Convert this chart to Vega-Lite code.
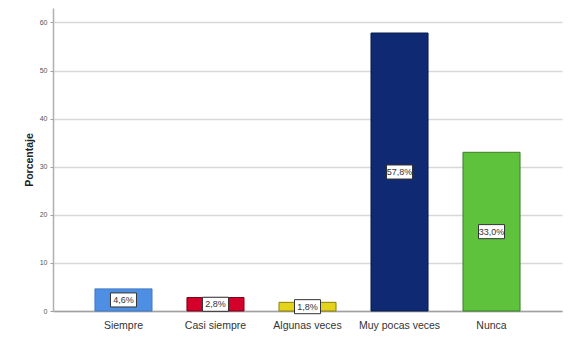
{
  "$schema": "https://vega.github.io/schema/vega-lite/v6.json",
  "width": 509,
  "height": 303,
  "autosize": {"type": "none"},
  "padding": {"left": 53, "top": 8, "right": 10, "bottom": 43},
  "background": "white",
  "data": {
    "values": [
      {"cat": "Siempre", "pct": 4.6, "label": "4,6%"},
      {"cat": "Casi siempre", "pct": 2.8, "label": "2,8%"},
      {"cat": "Algunas veces", "pct": 1.8, "label": "1,8%"},
      {"cat": "Muy pocas veces", "pct": 57.8, "label": "57,8%"},
      {"cat": "Nunca", "pct": 33.0, "label": "33,0%"}
    ]
  },
  "transform": [{"calculate": "datum.pct / 2", "as": "mid"}],
  "config": {
    "view": {"stroke": null},
    "font": "Liberation Sans"
  },
  "encoding": {
    "x": {
      "field": "cat",
      "type": "nominal",
      "sort": null,
      "scale": {"paddingInner": 0.38, "paddingOuter": 0.456},
      "axis": {
        "title": null,
        "labelAngle": 0,
        "labelFontSize": 10.5,
        "labelColor": "#333333",
        "labelPadding": 9,
        "ticks": false,
        "domainColor": "#a0a0a0",
        "domainWidth": 1.5
      }
    }
  },
  "layer": [
    {
      "mark": {"type": "bar", "strokeWidth": 1},
      "encoding": {
        "y": {
          "field": "pct",
          "type": "quantitative",
          "scale": {"domain": [0, 63], "nice": false},
          "axis": {
            "title": "Porcentaje",
            "titleFontSize": 10.5,
            "titleFontWeight": "bold",
            "titleColor": "#222222",
            "titlePadding": 5,
            "values": [0, 10, 20, 30, 40, 50, 60],
            "labelFontSize": 7,
            "labelColor": "#555555",
            "labelPadding": 3,
            "tickSize": 3,
            "tickColor": "#a0a0a0",
            "domainColor": "#b0b0b0",
            "domainWidth": 1.5,
            "gridColor": "#d8d8d8",
            "gridWidth": 1.5
          }
        },
        "fill": {
          "field": "cat",
          "type": "nominal",
          "sort": null,
          "scale": {"range": ["#4f8fe3", "#d4002b", "#e3d31b", "#0f2a72", "#5ec23c"]},
          "legend": null
        },
        "stroke": {
          "field": "cat",
          "type": "nominal",
          "sort": null,
          "scale": {"range": ["#3f78c4", "#7a0018", "#8a7f10", "#0a1c4e", "#3d7d28"]},
          "legend": null
        }
      }
    },
    {
      "mark": {
        "type": "point",
        "shape": "M-1,-0.54H1V0.54H-1Z",
        "size": 676,
        "filled": true,
        "fill": "white",
        "stroke": "#333333",
        "strokeWidth": 1,
        "opacity": 1
      },
      "encoding": {
        "y": {"field": "mid", "type": "quantitative"}
      }
    },
    {
      "mark": {"type": "text", "fontSize": 9, "font": "Liberation Sans Narrow, Liberation Sans", "color": "#333333", "baseline": "middle"},
      "encoding": {
        "y": {"field": "mid", "type": "quantitative"},
        "text": {"field": "label"}
      }
    }
  ]
}
